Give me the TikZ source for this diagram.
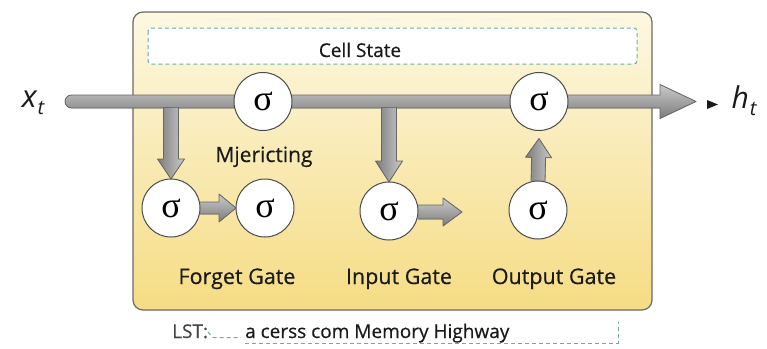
\documentclass[tikz,border=0pt]{standalone}
\usepackage{fontspec}
\setmainfont{Open Sans}
\newfontface\medfont{Open Sans}[FakeBold=0.45]
\newfontfamily\sigfont{Liberation Serif}
\usetikzlibrary{calc}

\definecolor{boxedge}{HTML}{6A6A6A}
\definecolor{paleyellow}{HTML}{FDF8E2}
\definecolor{deepyellow}{HTML}{F5DC84}
\definecolor{dashteal}{HTML}{6AAFA6}
\definecolor{pipelight}{HTML}{CACACA}
\definecolor{pipedark}{HTML}{7C7C7C}
\definecolor{pipeedge}{HTML}{666666}
\definecolor{circedge}{HTML}{4A4A4A}
\definecolor{inktext}{HTML}{1A1A1A}
\definecolor{lstgray}{HTML}{444444}

\tikzset{
  mainbox/.style={draw=boxedge, line width=1.2pt, rounded corners=10pt,
    top color=paleyellow, bottom color=deepyellow},
  csdash/.style={draw=dashteal, line width=1pt, dash pattern=on 4pt off 3pt},
  pipeh/.style={top color=pipelight, bottom color=pipedark},
  pipev/.style={left color=pipedark, right color=pipelight},
  pipeline/.style={draw=pipeedge, line width=0.8pt, line join=round},
  gate/.style={circle, draw=circedge, fill=white, line width=1pt,
    minimum size=58pt, inner sep=0pt, font=\sigfont\fontsize{36}{36}\selectfont},
  lbl/.style={font=\medfont\fontsize{19}{22}\selectfont, text=inktext, inner sep=0pt, anchor=base},
  gatelbl/.style={lbl, font=\medfont\fontsize{21.5}{24}\selectfont},
}

% Block arrow from #2 to #3; #4 shaft half-width, #5 head half-width, #6 head length.
% The start edge is left open so the shaft merges into whatever it leaves.
\newcommand\blockarrow[6][]{%
  \coordinate (ba-s) at (#2);
  \coordinate (ba-e) at (#3);
  \coordinate (ba-b) at ($(ba-e)!#6!(ba-s)$);
  \fill[#1]
    ($(ba-s)!#4!-90:(ba-e)$) -- ($(ba-b)!#4!-90:(ba-e)$) --
    ($(ba-b)!#5!-90:(ba-e)$) -- (ba-e) -- ($(ba-b)!#5!90:(ba-e)$) --
    ($(ba-b)!#4!90:(ba-e)$) -- ($(ba-s)!#4!90:(ba-e)$) -- cycle;
  \draw[pipeline]
    ($(ba-s)!#4!-90:(ba-e)$) -- ($(ba-b)!#4!-90:(ba-e)$) --
    ($(ba-b)!#5!-90:(ba-e)$) -- (ba-e) -- ($(ba-b)!#5!90:(ba-e)$) --
    ($(ba-b)!#4!90:(ba-e)$) -- ($(ba-s)!#4!90:(ba-e)$);
}

\begin{document}
\begin{tikzpicture}[x=1pt, y=-1pt]
  \useasboundingbox (0,0) rectangle (767,348);

  % LSTM cell body
  \draw[mainbox] (133,12) rectangle (652,310);

  % cell state band
  \draw[csdash, fill=white, rounded corners=3pt] (148,28) rectangle (637,64);
  \node[lbl] (cs) at (360,57) {Cell State};

  % main input -> output pipe
  \coordinate (xin) at (65,101.5);
  \coordinate (xout) at (696,101.5);
  \filldraw[pipeh, pipeline]
    ($(xin)+(6.5,-6.5)$) -- ($(xout)+(-36,-6.5)$) -- ($(xout)+(-36,-17)$) --
    (xout) -- ($(xout)+(-36,17)$) -- ($(xout)+(-36,6.5)$) --
    ($(xin)+(6.5,6.5)$) arc[start angle=90, end angle=270, radius=6.5] -- cycle;

  % gate positions
  \coordinate (pf1) at (171,208);
  \coordinate (pi1) at (389,211);
  \coordinate (po1) at (538,210);
  \coordinate (pm2) at (539,101.5);

  % branches leaving the pipe
  \blockarrow[pipev]{$(pf1 |- xin)+(0,6)$}{$(pf1)+(0,-29)$}{7.5pt}{13.5pt}{20pt}
  \blockarrow[pipev]{$(pi1 |- xin)+(0,6)$}{$(pi1)+(0,-29)$}{7.5pt}{13.5pt}{21pt}
  \blockarrow[pipev]{$(po1)+(0,-29)$}{$(pm2)+(0,37)$}{7pt}{13pt}{19pt}
  \blockarrow[pipeh]{$(pf1)+(29,0)$}{$(265,208)+(-29,0)$}{6pt}{14pt}{17pt}
  \blockarrow[pipeh]{$(pi1)+(29,1)$}{462,212}{7pt}{14pt}{19pt}

  % sigma units
  \node[gate] (m1) at (263,101.5) {σ};
  \node[gate] (m2) at (pm2) {σ};
  \node[gate] (f1) at (pf1) {σ};
  \node[gate] (f2) at (265,208) {σ};
  \node[gate] (i1) at (pi1) {σ};
  \node[gate] (o1) at (po1) {σ};

  % labels
  \node[lbl, font=\medfont\fontsize{21}{24}\selectfont] (mj) at (264,162) {Mjericting};
  \node[gatelbl] (fg) at (237,284) {Forget Gate};
  \node[gatelbl] (ig) at (399,284) {Input Gate};
  \node[gatelbl] (og) at (554,284) {Output Gate};

  % input and output symbols
  \node[anchor=base, text=inktext, inner sep=0pt] (xt) at (33,107)
    {\fontsize{31}{31}\selectfont\itshape x\kern1pt\raisebox{-7pt}{\fontsize{20}{20}\selectfont t}};
  \fill[inktext] (707,100) -- (718,104.5) -- (707,109) -- cycle;
  \node[anchor=base, text=inktext, inner sep=0pt] (ht) at (744,108)
    {\fontsize{30}{30}\selectfont\itshape h\kern1pt\raisebox{-7pt}{\fontsize{20}{20}\selectfont t}};

  % caption under the cell
  \node[lbl, anchor=base west, text=lstgray] (lst) at (172,338) {LST:};
  \draw[csdash] (208,332) -- (213,337.5) -- (241,337.5);
  \node[lbl, anchor=base west] (mh) at (245,338) {a cerss com Memory Highway};
  \draw[csdash] (245,343) -- (618,343) -- (618,322);
\end{tikzpicture}
\end{document}
